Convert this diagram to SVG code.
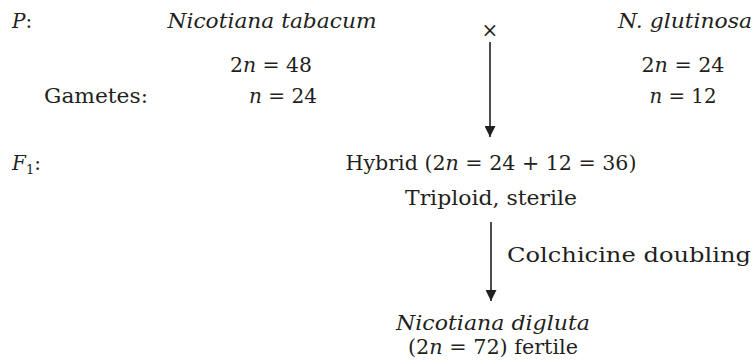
<svg xmlns="http://www.w3.org/2000/svg" width="754" height="362" viewBox="0 0 754 362">
<defs>
<marker id="ah" viewBox="0 0 10 10" refX="10" refY="5" markerWidth="11" markerHeight="11" markerUnits="userSpaceOnUse" orient="auto">
<path d="M0,0 L10,5 L0,10 z" fill="#231f20"/>
</marker>
<style>
text{font-family:"DejaVu Serif","Liberation Serif",serif;font-size:20px;fill:#231f20}
.i{font-style:italic}
.m{text-anchor:middle}
.c line{stroke:#231f20;stroke-width:1.6}
</style>
</defs>
<rect width="754" height="362" fill="#fff"/>
<g id="labels">
<text x="12" y="28"><tspan class="i">P</tspan>:</text>
<text x="12" y="170"><tspan class="i">F</tspan><tspan font-size="13" dy="4">1</tspan><tspan dy="-4">:</tspan></text>
<text x="44" y="103" textLength="104" lengthAdjust="spacingAndGlyphs">Gametes:</text>
</g>
<g id="parent1">
<text class="i m" x="272" y="28" textLength="209" lengthAdjust="spacingAndGlyphs">Nicotiana tabacum</text>
<text class="m" x="271" y="72" textLength="82" lengthAdjust="spacingAndGlyphs">2<tspan class="i">n</tspan> = 48</text>
<text class="m" x="283" y="103" textLength="68" lengthAdjust="spacingAndGlyphs"><tspan class="i">n</tspan> = 24</text>
</g>
<g id="cross"><text class="m" x="490" y="37" font-family="DejaVu Sans">×</text></g>
<g id="parent2">
<text class="i m" x="685" y="28" textLength="134" lengthAdjust="spacingAndGlyphs">N. glutinosa</text>
<text class="m" x="683" y="72" textLength="83" lengthAdjust="spacingAndGlyphs">2<tspan class="i">n</tspan> = 24</text>
<text class="m" x="683" y="103" textLength="67" lengthAdjust="spacingAndGlyphs"><tspan class="i">n</tspan> = 12</text>
</g>
<g id="hybrid">
<text class="m" x="491" y="170" textLength="291" lengthAdjust="spacingAndGlyphs">Hybrid (2<tspan class="i">n</tspan> = 24 + 12 = 36)</text>
<text class="m" x="491" y="205" textLength="172" lengthAdjust="spacingAndGlyphs">Triploid, sterile</text>
</g>
<g id="amphidiploid">
<text class="i m" x="493" y="330" textLength="194" lengthAdjust="spacingAndGlyphs">Nicotiana digluta</text>
<text class="m" x="493" y="354" textLength="170" lengthAdjust="spacingAndGlyphs">(2<tspan class="i">n</tspan> = 72) fertile</text>
</g>
<g class="c" id="connectors">
<line x1="490" y1="42" x2="490" y2="137" marker-end="url(#ah)"/>
<line x1="491" y1="222" x2="491" y2="301" marker-end="url(#ah)"/>
<text x="507" y="262" textLength="244" lengthAdjust="spacingAndGlyphs">Colchicine doubling</text>
</g>
</svg>
